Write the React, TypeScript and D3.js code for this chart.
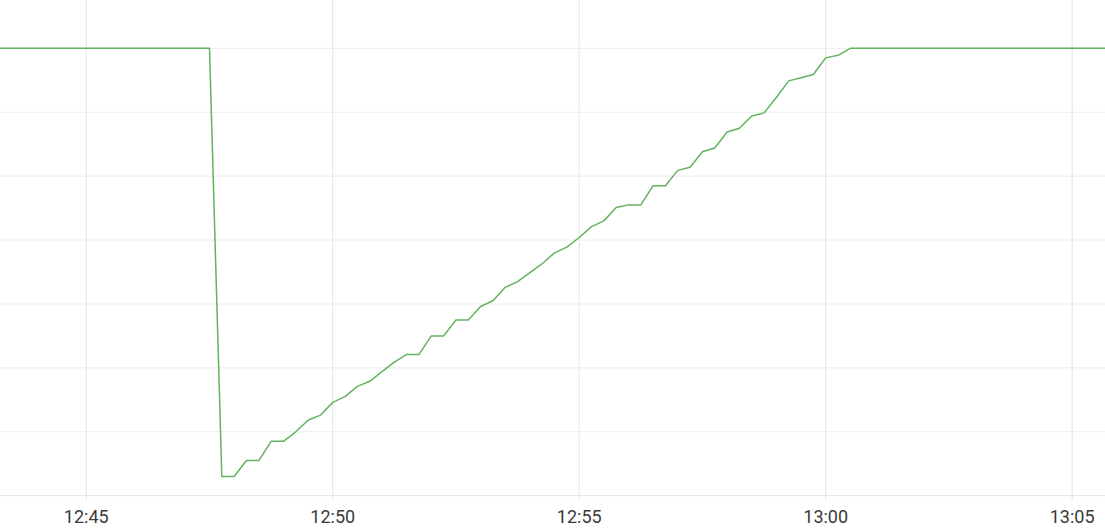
import React from 'react';
import * as d3 from 'd3';

// sampled every 15 s, starting 12:43:15
const sampleStart = new Date(2024, 0, 1, 12, 43, 15);
const sampleStepSec = 15;

const levelValues: number[] = [
  // 12:43:15 – 12:47:30
  70, 70, 70, 70, 70, 70, 70, 70, 70, 70, 70, 70, 70, 70, 70, 70, 70, 70,
  // drop and recovery
  3.0, 3.0, 5.5, 5.5, 8.5, 8.5, 10.0, 11.8, 12.6, 14.6, 15.5, 17.1, 17.9, 19.4,
  20.9, 22.1, 22.1, 25.0, 25.0, 27.5, 27.5, 29.6, 30.5, 32.6, 33.5, 34.9, 36.3,
  38.0, 38.9, 40.4, 42.1, 43.0, 45.1, 45.5, 45.5, 48.5, 48.5, 50.9, 51.4, 53.8,
  54.4, 56.9, 57.5, 59.4, 59.9, 62.3, 64.9, 65.4, 65.9, 68.5, 68.9,
  // 13:00:30 – 13:05:45
  70, 70, 70, 70, 70, 70, 70, 70, 70, 70, 70, 70, 70, 70, 70, 70, 70, 70, 70, 70, 70, 70,
];

const yTicks = [0, 10, 20, 30, 40, 50, 60, 70];
const xTickLabels = ['12:45', '12:50', '12:55', '13:00', '13:05'];

const W = 1105;
const H = 531;

export default function App() {
  const points = levelValues.map((v, i) => ({
    t: new Date(sampleStart.getTime() + i * sampleStepSec * 1000),
    v,
  }));

  const x = d3.scaleTime()
    .domain([new Date(2024, 0, 1, 12, 43, 15), new Date(2024, 0, 1, 13, 5, 40)])
    .range([0, W]);

  const y = d3.scaleLinear()
    .domain([0, 70])
    .range([495.7, 48.3]);

  const xTicks = xTickLabels.map(s => {
    const [hh, mm] = s.split(':').map(Number);
    return { label: s, t: new Date(2024, 0, 1, hh, mm, 0) };
  });

  const line = d3.line<{ t: Date; v: number }>()
    .x(d => x(d.t))
    .y(d => y(d.v));

  return (
    <svg width={W} height={H} style={{ position: 'absolute', left: 0, top: 0, background: '#fff' }}>
      <defs>
        <clipPath id="plot-clip">
          <rect x={0} y={0} width={W} height={H} />
        </clipPath>
      </defs>

      {/* horizontal grid */}
      {yTicks.map(v => (
        <line key={v} x1={0} x2={W} y1={y(v)} y2={y(v)}
          stroke={v === 0 ? '#e3e3e3' : '#ececec'} strokeWidth={1} />
      ))}

      {/* vertical grid + ticks */}
      {xTicks.map(d => (
        <g key={d.label} transform={`translate(${x(d.t)},0)`}>
          <line y1={0} y2={y(0) + 5} stroke="#e5e5e5" strokeWidth={1} />
          <text y={523} textAnchor="middle" fill="#3a3a3a"
            style={{ fontFamily: 'Roboto, sans-serif', fontSize: 18 }}>
            {d.label}
          </text>
        </g>
      ))}

      <path d={line(points) ?? ''} fill="none" stroke="#62b35d" strokeWidth={1.5}
        strokeLinejoin="round" clipPath="url(#plot-clip)" />
    </svg>
  );
}
